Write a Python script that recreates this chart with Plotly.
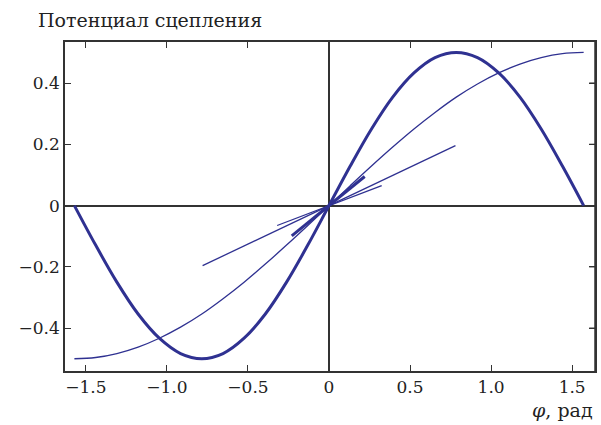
import plotly.graph_objects as go

# angle grid, rad
phi = [-1.571, -1.440, -1.309, -1.178, -1.047, -0.916, -0.785, -0.654, -0.524,
       -0.393, -0.262, -0.131, 0.0, 0.131, 0.262, 0.393, 0.524, 0.654, 0.785,
       0.916, 1.047, 1.178, 1.309, 1.440, 1.571]

# thick curve (cohesion potential, double period)
pot_thick = [0.0, -0.129, -0.25, -0.354, -0.433, -0.483, -0.5, -0.483, -0.433,
             -0.354, -0.25, -0.129, 0.0, 0.129, 0.25, 0.354, 0.433, 0.483, 0.5,
             0.483, 0.433, 0.354, 0.25, 0.129, 0.0]

# thin curve
pot_thin = [-0.5, -0.496, -0.483, -0.462, -0.433, -0.397, -0.354, -0.304, -0.25,
            -0.191, -0.129, -0.065, 0.0, 0.065, 0.129, 0.191, 0.25, 0.304, 0.354,
            0.397, 0.433, 0.462, 0.483, 0.496, 0.5]

# straight segments through the origin
seg_long_x = [-0.78, 0.78]
seg_long_y = [-0.196, 0.196]
seg_short_x = [-0.32, 0.325]
seg_short_y = [-0.065, 0.065]
seg_thick_x = [-0.23, 0.22]
seg_thick_y = [-0.099, 0.095]

x_ticks = [-1.5, -1.0, -0.5, 0, 0.5, 1.0, 1.5]
x_labels = ["\u22121.5", "\u22121.0", "\u22120.5", "0", "0.5", "1.0", "1.5"]
y_ticks = [-0.4, -0.2, 0, 0.2, 0.4]
y_labels = ["\u22120.4", "\u22120.2", "0", "0.2", "0.4"]

blue = "#2f3191"
ink = "#333333"
font = "DejaVu Serif"

fig = go.Figure()
fig.add_trace(go.Scatter(x=phi, y=pot_thin, mode="lines", line=dict(color=blue, width=1.3, shape="spline")))
fig.add_trace(go.Scatter(x=phi, y=pot_thick, mode="lines", line=dict(color=blue, width=3, shape="spline")))
fig.add_trace(go.Scatter(x=seg_long_x, y=seg_long_y, mode="lines", line=dict(color=blue, width=1.3)))
fig.add_trace(go.Scatter(x=seg_short_x, y=seg_short_y, mode="lines", line=dict(color=blue, width=1.3)))
fig.add_trace(go.Scatter(x=seg_thick_x, y=seg_thick_y, mode="lines", line=dict(color=blue, width=3)))

axis_style = dict(
    showgrid=False, zeroline=True, zerolinecolor=ink, zerolinewidth=1.5,
    showline=True, linecolor=ink, linewidth=1.5, mirror="allticks",
    ticks="inside", ticklen=6, tickwidth=1.2, tickcolor=ink,
    tickfont=dict(family=font, size=17, color="#222"),
)

fig.update_xaxes(range=[-1.629, 1.641], tickvals=x_ticks, ticktext=x_labels, **axis_style)
fig.update_yaxes(range=[-0.540, 0.534], tickvals=y_ticks, ticktext=y_labels, **axis_style)

# right-hand frame and its inward ticks
fig.add_shape(type="line", xref="paper", yref="paper", x0=1, x1=1, y0=0, y1=1,
              line=dict(color=ink, width=1.5), layer="above")
for yv in y_ticks:
    fig.add_shape(type="line", xref="paper", yref="y", x0=1, x1=0.989, y0=yv, y1=yv,
                  line=dict(color=ink, width=1.2), layer="above")

fig.update_layout(
    width=601, height=425,
    margin=dict(l=65, r=4, t=42, b=54),
    plot_bgcolor="white", paper_bgcolor="white",
    showlegend=False,
    annotations=[
        dict(text="Потенциал сцепления", xref="paper", yref="paper", x=-0.055, y=1.067,
             xanchor="left", yanchor="middle", showarrow=False,
             font=dict(family=font, size=19, color="#222")),
        dict(text="<i>φ</i>, рад", xref="paper", yref="paper", x=1.0, y=-0.118,
             xanchor="right", yanchor="middle", showarrow=False,
             font=dict(family=font, size=19, color="#222")),
    ],
)

# drop the default page margin so the figure fills the window exactly; no modebar
fig.write_html("out.html", config={"displayModeBar": False},
               post_script="document.body.style.margin='0';document.body.style.overflow='hidden';")
